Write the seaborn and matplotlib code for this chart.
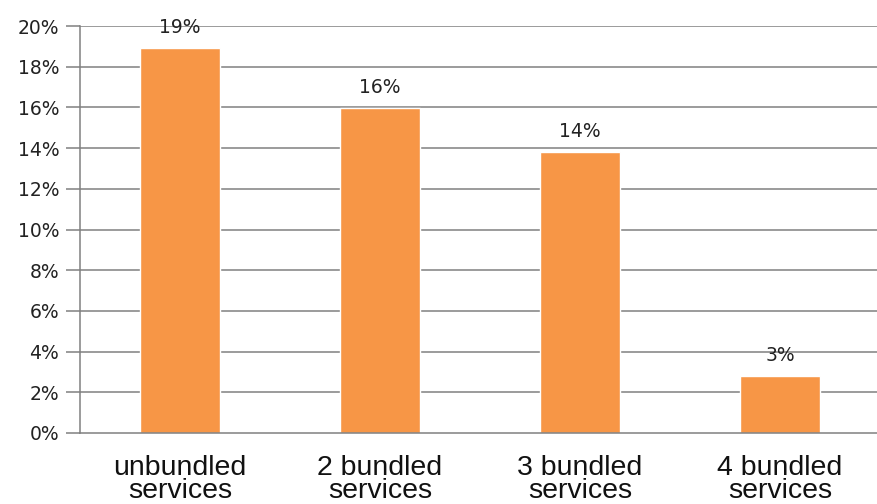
import matplotlib
matplotlib.use('Agg')
import matplotlib.pyplot as plt
import seaborn as sns
import pandas as pd

# data
categories = ['unbundled\nservices', '2 bundled\nservices', '3 bundled\nservices', '4 bundled\nservices']
shares = [18.9, 15.95, 13.8, 2.8]
value_labels = ['19%', '16%', '14%', '3%']
y_ticks = [0, 2, 4, 6, 8, 10, 12, 14, 16, 18, 20]

df = pd.DataFrame({'category': categories, 'share': shares})

sns.set_style('white')
plt.rcParams['font.family'] = ['DejaVu Sans']

fig = plt.figure(figsize=(8.77, 5.04), dpi=100)
ax = fig.add_axes([80 / 877, 71 / 504, 800 / 877, 407 / 504])

grid_col = '#808080'
sns.barplot(data=df, x='category', y='share', color='#F79646', saturation=1,
            width=0.4, ax=ax, zorder=3)

ax.set_ylim(0, 20)
ax.set_xlim(-0.5, 3.5)
ax.set_yticks(y_ticks)
ax.set_yticklabels([f'{t}%' for t in y_ticks], fontsize=13.5, color='#222222')
for t in y_ticks[1:]:
    ax.axhline(t, color=grid_col, lw=1.1, zorder=1)

ax.set_xticks(range(len(categories)))
ax.set_xticklabels(categories, fontsize=20.5, color='#111111',
                   family=['Liberation Sans', 'DejaVu Sans'], linespacing=0.85)
ax.tick_params(axis='x', which='major', length=0, pad=16)
ax.set_xticks([0.5, 1.5, 2.5, 3.5], minor=True)
ax.tick_params(axis='x', which='minor', length=7, color=grid_col, width=1.1, direction='out')
ax.tick_params(axis='y', length=10, color=grid_col, width=1.1, direction='out', pad=5, left=True)

for side in ['top', 'right']:
    ax.spines[side].set_visible(False)
for side in ['left', 'bottom']:
    ax.spines[side].set_color(grid_col)
    ax.spines[side].set_linewidth(1.1)
    ax.spines[side].set_zorder(4)

ax.bar_label(ax.containers[0], labels=value_labels, padding=8, fontsize=13.5, color='#222222')

ax.set_xlabel('')
ax.set_ylabel('')

fig.savefig('out.png', dpi=100)
